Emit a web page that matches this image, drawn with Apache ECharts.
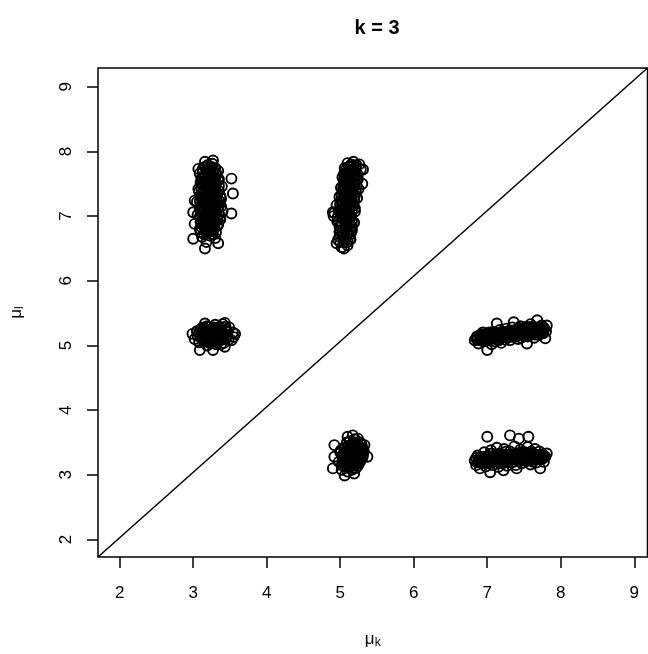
<!DOCTYPE html>
<html>
<head>
<meta charset="utf-8">
<script src="https://cdn.jsdelivr.net/npm/echarts@6/dist/echarts.min.js"></script>
<style>html,body{margin:0;padding:0;background:#fff}#c{width:648px;height:654px}</style>
</head>
<body>
<div id="c"></div>
<script>
const titleText = "k = 3";
const xTicks = [2, 3, 4, 5, 6, 7, 8, 9];
const yTicks = [2, 3, 4, 5, 6, 7, 8, 9];
const xRange = [1.705, 9.18];
const yRange = [1.73, 9.29];
const diagonal = [[1.705, 1.73], [9.18, 9.29]];

// cluster (mu_k=3, mu_l=7)
const clusterA = [
[3.00,6.65],[3.16,6.50],[3.34,6.58],[3.18,6.60],[3.07,7.73],[3.27,7.86],[3.16,7.84],[3.02,7.24],[3.00,7.06],[3.02,6.88],
[3.52,7.58],[3.54,7.35],[3.52,7.04],
[3.12,6.68],[3.22,6.70],[3.30,6.66],[3.18,6.74],[3.27,6.77],
[3.09,6.80],[3.15,6.83],[3.24,6.81],[3.33,6.85],[3.20,6.88],
[3.11,6.92],[3.28,6.93],[3.37,6.95],[3.17,6.97],[3.23,7.00],
[3.06,7.02],[3.13,7.05],[3.31,7.04],[3.40,7.08],[3.21,7.09],
[3.09,7.12],[3.26,7.13],[3.16,7.16],[3.35,7.17],[3.22,7.20],
[3.05,7.22],[3.12,7.25],[3.29,7.24],[3.38,7.27],[3.19,7.28],
[3.10,7.32],[3.25,7.33],[3.33,7.36],[3.15,7.37],[3.21,7.40],
[3.07,7.42],[3.30,7.43],[3.39,7.46],[3.13,7.47],[3.24,7.49],
[3.10,7.52],[3.19,7.55],[3.28,7.53],[3.35,7.57],[3.14,7.60],
[3.23,7.62],[3.31,7.64],[3.09,7.66],[3.18,7.68],[3.27,7.70],
[3.13,7.73],[3.22,7.75],[3.30,7.74],[3.20,7.79],[3.26,7.81],
[3.18,6.95],[3.26,7.06],[3.14,7.10],[3.29,7.19],[3.20,7.14],[3.17,7.22],[3.27,7.28],[3.22,7.35],[3.30,7.40],[3.18,7.44],
[3.25,7.58],[3.16,7.51],[3.24,6.90],[3.14,6.86],[3.32,7.31],[3.11,7.58],[3.34,7.70],[3.08,7.38],[3.28,6.98],[3.22,6.77],
[3.15,6.72],[3.26,6.72],[3.10,6.75],[3.21,6.75],[3.31,6.75],[3.17,6.79],[3.27,6.79],[3.11,6.83],[3.20,6.83],[3.29,6.83],
[3.16,6.87],[3.26,6.87],[3.34,6.87],[3.10,6.91],[3.21,6.91],[3.30,6.91],[3.14,6.95],[3.24,6.95],[3.33,6.95],[3.09,6.99],
[3.19,6.99],[3.29,6.99],[3.37,6.99],[3.16,7.03],[3.25,7.03],[3.35,7.03],[3.10,7.07],[3.20,7.07],[3.30,7.07],[3.15,7.11],
[3.24,7.11],[3.34,7.11],[3.10,7.15],[3.19,7.15],[3.29,7.15],[3.38,7.15],[3.14,7.19],[3.24,7.19],[3.33,7.19],[3.09,7.23],
[3.19,7.23],[3.28,7.23],[3.36,7.23],[3.14,7.27],[3.23,7.27],[3.32,7.27],[3.18,7.31],[3.28,7.31],[3.37,7.31],[3.12,7.35],
[3.21,7.35],[3.30,7.35],[3.16,7.39],[3.26,7.39],[3.35,7.39],[3.11,7.43],[3.21,7.43],[3.30,7.43],[3.17,7.47],[3.27,7.47],
[3.35,7.47],[3.12,7.51],[3.22,7.51],[3.31,7.51],[3.16,7.55],[3.26,7.55],[3.34,7.55],[3.12,7.59],[3.21,7.59],[3.30,7.59],
[3.16,7.63],[3.26,7.63],[3.13,7.67],[3.22,7.67],[3.31,7.67],[3.18,7.71],[3.27,7.71],[3.16,7.76],[3.25,7.76]
];

// cluster (mu_k=5, mu_l=7)
const clusterB = [
[5.02,6.52],[5.10,6.55],[5.06,6.60],[4.97,6.63],[5.14,6.64],
[5.03,6.70],[5.10,6.72],[4.99,6.76],[5.16,6.78],[5.07,6.81],
[5.01,6.85],[5.12,6.87],[5.19,6.90],[4.96,6.92],[5.06,6.94],
[5.14,6.98],[5.02,7.00],[4.92,7.05],[5.09,7.04],[5.20,7.07],
[5.00,7.10],[5.13,7.12],[5.06,7.15],[4.95,7.17],[5.18,7.18],
[5.09,7.21],[5.02,7.24],[5.15,7.26],[5.23,7.28],[4.99,7.30],
[5.08,7.32],[5.17,7.35],[5.04,7.38],[5.12,7.40],[5.25,7.42],
[5.01,7.44],[5.10,7.47],[5.19,7.49],[5.06,7.52],[5.14,7.55],
[5.24,7.57],[5.03,7.60],[5.12,7.62],[5.20,7.64],[5.08,7.67],
[5.16,7.70],[5.28,7.72],[5.06,7.74],[5.13,7.77],[5.22,7.79],
[5.10,7.82],[5.18,7.84],[5.26,7.80],
[5.08,6.90],[5.10,7.00],[5.12,7.08],[5.07,7.26],[5.14,7.33],[5.10,7.58],[5.17,7.45],[5.05,7.65],[5.13,6.80],[5.04,6.66],
[5.18,7.60],[5.12,7.70],[5.00,7.20],[5.21,7.38],[5.09,7.12],
[4.90,7.06],[4.91,7.00],[5.31,7.72],[5.30,7.50],[4.95,6.58],[5.05,6.50],
[5.00,6.60],[5.10,6.60],[5.05,6.64],[5.13,6.64],[4.99,6.68],[5.08,6.68],[5.04,6.72],[5.14,6.72],[5.00,6.76],[5.09,6.76],
[5.04,6.80],[5.14,6.80],[4.99,6.84],[5.08,6.84],[5.16,6.84],[5.03,6.88],[5.12,6.88],[4.98,6.92],[5.08,6.92],[5.16,6.92],
[5.03,6.96],[5.12,6.96],[4.97,7.00],[5.06,7.00],[5.15,7.00],[5.01,7.04],[5.11,7.04],[4.98,7.08],[5.07,7.08],[5.16,7.08],
[5.03,7.12],[5.12,7.12],[5.20,7.12],[5.00,7.16],[5.09,7.16],[5.17,7.16],[5.04,7.20],[5.13,7.20],[5.01,7.24],[5.10,7.24],
[5.19,7.24],[5.05,7.28],[5.14,7.28],[5.02,7.32],[5.11,7.32],[5.20,7.32],[5.07,7.36],[5.16,7.36],[5.03,7.40],[5.12,7.40],
[5.21,7.40],[5.07,7.44],[5.16,7.44],[5.04,7.48],[5.13,7.48],[5.22,7.48],[5.09,7.52],[5.18,7.52],[5.05,7.56],[5.14,7.56],
[5.22,7.56],[5.09,7.60],[5.18,7.60],[5.06,7.64],[5.15,7.64],[5.24,7.64],[5.11,7.68],[5.20,7.68],[5.08,7.72],[5.17,7.72],
[5.12,7.76],[5.21,7.76],[5.15,7.80]
];

// cluster (mu_k=3, mu_l=5)
const clusterC = [
[2.99,5.18],[3.02,5.10],[3.05,5.22],[3.08,5.05],[3.10,5.15],[3.12,5.27],[3.14,5.08],[3.16,5.34],[3.17,5.20],[3.19,5.00],
[3.20,5.12],[3.22,5.29],[3.23,5.06],[3.25,5.18],[3.27,4.93],[3.27,5.24],[3.29,5.10],[3.30,5.32],[3.31,5.02],[3.33,5.16],
[3.34,5.27],[3.36,5.08],[3.37,5.21],[3.39,5.13],[3.40,5.33],[3.42,5.04],[3.43,5.35],[3.43,4.98],[3.44,5.24],[3.46,5.16],
[3.48,5.09],[3.49,5.28],[3.52,5.08],[3.54,5.20],[3.57,5.18],[3.55,5.13],[3.09,4.93],[3.12,5.19],[3.18,5.25],[3.21,5.16],
[3.26,5.11],[3.24,5.04],[3.32,5.22],[3.35,5.14],[3.38,5.02],[3.28,5.28],[3.15,5.12],[3.06,5.15],[3.41,5.19],[3.30,5.06],[3.19,5.09],
[3.08,5.20],[3.11,5.12],[3.13,5.22],[3.16,5.15],[3.18,5.06],[3.19,5.30],[3.21,5.22],[3.23,5.13],[3.25,5.25],[3.26,5.07],
[3.28,5.17],[3.30,5.26],[3.31,5.12],[3.33,5.05],[3.34,5.20],[3.36,5.29],[3.37,5.13],[3.39,5.23],[3.41,5.09],[3.42,5.17],
[3.44,5.29],[3.45,5.11],[3.47,5.21],[3.14,5.28],[3.22,5.04],[3.29,5.20],[3.35,5.24],[3.17,5.11],[3.40,5.15],[3.10,5.25]
];

// cluster (mu_k=7, mu_l=5)
const clusterD = [
[6.83,5.08],[6.86,5.14],[6.88,5.03],[6.91,5.11],[6.93,5.17],[6.95,5.06],[6.97,5.13],[7.00,4.93],[7.00,5.19],[7.02,5.09],
[7.04,5.15],[7.06,5.02],[7.08,5.21],[7.09,5.11],[7.11,5.06],[7.13,5.34],[7.13,5.17],[7.15,5.12],[7.17,5.24],[7.19,5.04],
[7.20,5.15],[7.22,5.20],[7.24,5.09],[7.26,5.26],[7.27,5.14],[7.29,5.19],[7.31,5.08],[7.33,5.23],[7.34,5.28],[7.36,5.36],
[7.36,5.13],[7.38,5.18],[7.40,5.25],[7.42,5.10],[7.44,5.21],[7.45,5.30],[7.47,5.16],[7.49,5.24],[7.51,5.19],[7.53,5.29],
[7.54,5.03],[7.55,5.14],[7.57,5.22],[7.59,5.33],[7.60,5.17],[7.62,5.26],[7.64,5.12],[7.66,5.21],[7.68,5.39],[7.68,5.28],
[7.70,5.16],[7.72,5.24],[7.74,5.31],[7.76,5.19],[7.78,5.26],[7.79,5.11],[7.81,5.31],[7.80,5.22],
[6.90,5.08],[6.98,5.16],[7.05,5.10],[7.10,5.15],[7.16,5.08],[7.21,5.13],[7.25,5.18],[7.30,5.14],[7.35,5.21],[7.39,5.14],
[7.43,5.17],[7.48,5.20],[7.52,5.15],[7.56,5.25],[7.61,5.21],[7.65,5.17],[7.71,5.20],[7.75,5.24],[7.03,5.20],[7.18,5.19],
[7.32,5.17],[7.46,5.12],[7.58,5.18],[7.69,5.23],[6.94,5.20],
[6.87,5.10],[6.90,5.16],[6.93,5.09],[6.96,5.15],[6.99,5.10],[7.01,5.16],[7.04,5.12],[7.07,5.18],[7.10,5.12],[7.12,5.19],
[7.15,5.14],[7.18,5.20],[7.21,5.15],[7.23,5.21],[7.26,5.15],[7.29,5.22],[7.31,5.16],[7.34,5.23],[7.37,5.17],[7.40,5.22],
[7.42,5.17],[7.45,5.24],[7.48,5.18],[7.50,5.25],[7.53,5.19],[7.56,5.26],[7.59,5.20],[7.61,5.27],[7.64,5.21],[7.67,5.27],
[7.69,5.21],[7.72,5.28],[7.75,5.22],[7.77,5.27],[6.92,5.13],[7.00,5.13],[7.08,5.15],[7.16,5.17],[7.24,5.18],[7.32,5.20],
[7.41,5.20],[7.49,5.21],[7.57,5.23],[7.65,5.24],[7.73,5.25],[6.85,5.11],[7.13,5.09],[7.28,5.12],[7.44,5.27],[7.60,5.29]
];

// cluster (mu_k=5, mu_l=3)
const clusterE = [
[4.90,3.10],[4.92,3.46],[4.92,3.28],[5.17,3.61],[5.10,3.59],[5.33,3.46],[5.37,3.28],[5.06,2.99],[5.19,3.02],
[4.98,3.20],[5.00,3.35],[5.02,3.08],[5.03,3.27],[5.05,3.42],[5.06,3.14],[5.08,3.31],[5.09,3.50],[5.10,3.05],[5.11,3.22],
[5.12,3.38],[5.14,3.13],[5.15,3.28],[5.16,3.47],[5.17,3.19],[5.18,3.35],[5.20,3.55],[5.21,3.10],[5.22,3.26],[5.23,3.43],
[5.25,3.18],[5.26,3.33],[5.27,3.50],[5.28,3.24],[5.29,3.40],[5.31,3.30],[5.32,3.37],[5.13,3.52],[5.24,3.56],[5.04,3.18],
[5.07,3.24],[5.13,3.33],[5.19,3.29],[5.15,3.40],[5.09,3.16],[5.21,3.38],[5.11,3.45],[5.27,3.37],[5.01,3.38],[5.24,3.21],
[5.17,3.11],[5.07,3.36],
[5.02,3.15],[5.04,3.24],[5.05,3.33],[5.07,3.19],[5.08,3.28],[5.09,3.38],[5.10,3.11],[5.12,3.26],[5.13,3.43],[5.14,3.19],
[5.15,3.34],[5.16,3.24],[5.17,3.49],[5.18,3.15],[5.19,3.40],[5.20,3.31],[5.21,3.21],[5.22,3.47],[5.23,3.35],[5.24,3.14],
[5.25,3.27],[5.26,3.44],[5.27,3.20],[5.28,3.32],[5.29,3.47],[5.30,3.26],[5.31,3.40],[5.06,3.42],[5.11,3.33],[5.16,3.08],
[5.20,3.50],[5.25,3.37],[5.03,3.30],[5.14,3.29],[5.22,3.29]
];

// cluster (mu_k=7, mu_l=3)
const clusterF = [
[6.83,3.22],[6.85,3.15],[6.87,3.30],[6.90,3.10],[6.92,3.24],[6.94,3.18],[6.96,3.35],[6.98,3.13],[7.00,3.59],[7.00,3.27],
[7.02,3.20],[7.04,3.04],[7.05,3.38],[7.07,3.15],[7.09,3.29],[7.11,3.22],[7.13,3.42],[7.15,3.12],[7.17,3.33],[7.19,3.25],
[7.21,3.18],[7.22,3.07],[7.23,3.40],[7.25,3.30],[7.27,3.14],[7.29,3.23],[7.31,3.61],[7.31,3.36],[7.33,3.19],[7.35,3.28],
[7.37,3.44],[7.39,3.15],[7.40,3.10],[7.41,3.32],[7.43,3.56],[7.43,3.24],[7.45,3.39],[7.47,3.18],[7.49,3.29],[7.51,3.35],
[7.53,3.21],[7.55,3.43],[7.56,3.59],[7.57,3.27],[7.59,3.16],[7.61,3.33],[7.63,3.24],[7.65,3.40],[7.67,3.19],[7.69,3.30],
[7.71,3.36],[7.72,3.10],[7.73,3.25],[7.75,3.32],[7.77,3.20],[7.79,3.28],[7.81,3.33],
[6.89,3.20],[6.97,3.24],[7.03,3.29],[7.08,3.22],[7.12,3.30],[7.16,3.24],[7.20,3.31],[7.24,3.22],[7.28,3.30],[7.32,3.26],
[7.36,3.20],[7.40,3.27],[7.44,3.31],[7.48,3.24],[7.52,3.28],[7.56,3.33],[7.60,3.25],[7.64,3.30],[7.68,3.26],[7.74,3.28],
[7.06,3.33],[7.26,3.36],[7.46,3.35],[7.62,3.20],[6.95,3.28],
[6.87,3.19],[6.90,3.26],[6.93,3.20],[6.96,3.27],[6.99,3.21],[7.01,3.28],[7.04,3.22],[7.07,3.28],[7.10,3.21],[7.12,3.29],
[7.15,3.23],[7.18,3.30],[7.21,3.24],[7.23,3.31],[7.26,3.24],[7.29,3.31],[7.31,3.24],[7.34,3.32],[7.37,3.25],[7.40,3.33],
[7.42,3.26],[7.45,3.32],[7.48,3.26],[7.50,3.33],[7.53,3.26],[7.56,3.30],[7.59,3.23],[7.61,3.30],[7.64,3.24],[7.67,3.31],
[7.69,3.24],[7.72,3.29],[7.75,3.25],[7.77,3.30],[6.92,3.23],[7.00,3.24],[7.08,3.25],[7.16,3.26],[7.24,3.27],[7.32,3.28],
[7.41,3.29],[7.49,3.29],[7.57,3.27],[7.65,3.27],[7.73,3.27],[6.85,3.26],[7.13,3.17],[7.28,3.19],[7.44,3.21],[7.60,3.36]
];

const clusters = [clusterA, clusterB, clusterC, clusterD, clusterE, clusterF];

const FONT = "Liberation Sans";
const chart = echarts.init(document.getElementById('c'), null, {renderer: 'canvas'});

const scatterSeries = clusters.map(d => ({
  type: 'scatter',
  data: d,
  symbol: 'circle',
  symbolSize: 10,
  itemStyle: {color: 'rgba(0,0,0,0)', borderColor: '#000', borderWidth: 1.9, opacity: 1},
  emphasis: {disabled: true},
  silent: true
}));

const richName = {
  m: {fontFamily: FONT, fontSize: 17, color: '#000'},
  s: {fontFamily: FONT, fontSize: 12, color: '#000', verticalAlign: 'bottom', padding: [7, 0, 0, 0]}
};

chart.setOption({
  animation: false,
  backgroundColor: '#fff',
  title: {
    text: titleText,
    left: 372,
    top: 13,
    textAlign: 'center',
    textStyle: {fontFamily: FONT, fontWeight: 'bold', fontSize: 20, color: '#000'}
  },
  grid: {
    left: 96, top: 68, right: 0.5, bottom: 97,
    show: true, borderColor: '#000', borderWidth: 1.5, backgroundColor: 'transparent'
  },
  xAxis: {
    type: 'value',
    min: xRange[0], max: xRange[1],
    axisLine: {show: false},
    splitLine: {show: false},
    axisTick: {show: true, inside: false, length: 11, customValues: xTicks, lineStyle: {color: '#000', width: 1.5}},
    axisLabel: {show: true, customValues: xTicks, margin: 28, fontFamily: FONT, fontSize: 17, color: '#000'},
    name: '{m|μ}{s|k}',
    nameLocation: 'middle',
    nameGap: 73,
    nameTextStyle: {rich: richName}
  },
  yAxis: {
    type: 'value',
    min: yRange[0], max: yRange[1],
    axisLine: {show: false},
    splitLine: {show: false},
    axisTick: {show: true, inside: false, length: 11, customValues: yTicks, lineStyle: {color: '#000', width: 1.5}},
    axisLabel: {show: true, customValues: yTicks, rotate: 90, margin: 23, fontFamily: FONT, fontSize: 17, color: '#000'},
    name: '{m|μ}{s|l}',
    nameLocation: 'middle',
    nameRotate: 90,
    nameGap: 72,
    nameTextStyle: {rich: richName}
  },
  series: [
    {
      type: 'line',
      data: diagonal,
      showSymbol: false,
      symbol: 'none',
      lineStyle: {color: '#000', width: 1.5},
      silent: true
    }
  ].concat(scatterSeries)
});
</script>
</body>
</html>
